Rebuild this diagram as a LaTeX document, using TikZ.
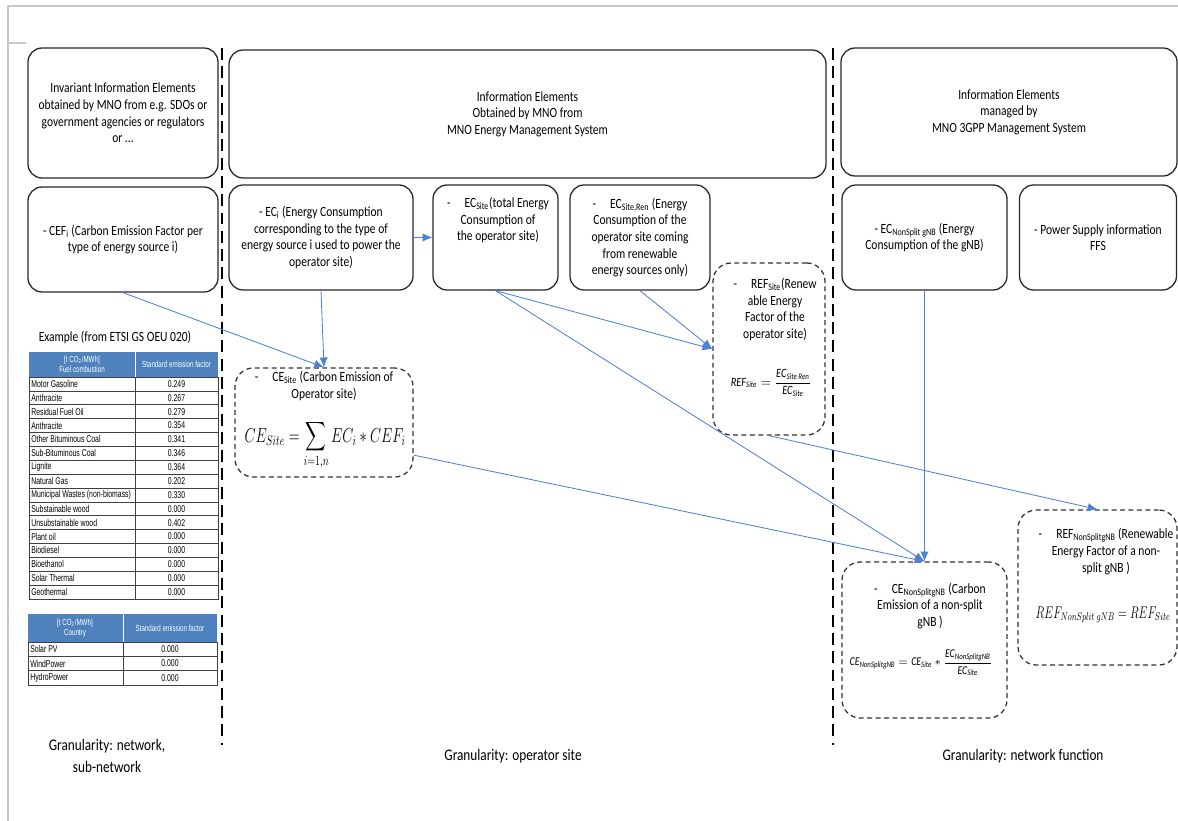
\documentclass[tikz,border=0pt]{standalone}
\usepackage{amsmath}
\usepackage{fontspec}
\setmainfont{Carlito}[FakeStretch=0.82]
\newfontfamily\tabfont{Liberation Sans}[FakeStretch=0.7]
\usetikzlibrary{arrows.meta}

\newcommand{\pxu}{0.025cm}
\newcommand{\narrowmath}[2][0.82]{\scalebox{#1}[1]{#2}}
\definecolor{arrowblue}{RGB}{79,129,209}
\definecolor{headblue}{RGB}{79,129,189}
\definecolor{framegray}{RGB}{200,200,200}

\tikzset{
  infobox/.style={draw=black!85, line width=0.9pt, rounded corners=10pt, align=center, inner sep=0pt},
  formbox/.style={draw=black!80, line width=0.9pt, dash pattern=on 3.5pt off 2.5pt, rounded corners=13pt, inner sep=0pt},
  boxtext/.style={align=center, inner sep=0pt},
  link/.style={draw=arrowblue, line width=0.6pt, -{Latex[length=7pt,width=6pt]}},
  sepline/.style={line width=2pt, dash pattern=on 8.5pt off 4.5pt},
  tabhead/.style={font=\tabfont\fontsize{6.3}{7.3}\selectfont, inner sep=0pt, text=white, align=center},
  tabtext/.style={font=\tabfont\fontsize{7}{8}\selectfont, inner sep=0pt},
  tabline/.style={draw=black!75, line width=0.5pt},
  grantext/.style={font=\fontsize{11.5}{15.5}\selectfont, align=center},
}

\begin{document}
\begin{tikzpicture}[x=0.025cm, y=-0.025cm, font=\fontsize{10}{11.8}\selectfont]
\useasboundingbox (0,0) rectangle (1178,821);
\draw[framegray, line width=0.8pt] (1178,6) -- (8,6) -- (8,821);
\draw[framegray, line width=0.8pt] (8,43) -- (26,43);

% column separators
\draw[sepline] (222,48) -- (222,745);
\draw[sepline] (833,48) -- (833,745);

% top row
\node[infobox, minimum width=190*\pxu, minimum height=130*\pxu] (inv) at (123,113) {Invariant Information Elements\\obtained by MNO from e.g. SDOs or\\government agencies or regulators\\or ...};
\node[infobox, minimum width=597*\pxu, minimum height=128*\pxu] (ems) at (527.5,114) {Information Elements\\Obtained by MNO from\\MNO Energy Management System};
\node[infobox, minimum width=336*\pxu, minimum height=128*\pxu] (mgmt) at (1009,112) {Information Elements\\managed by\\MNO 3GPP Management System};

% second row
\node[infobox, minimum width=190*\pxu, minimum height=105*\pxu] (cef) at (123,239.5) {- CEF\textsubscript{i} (Carbon Emission Factor per\\type of energy source i)};
\node[infobox, minimum width=184*\pxu, minimum height=105*\pxu] (eci) at (321,237.5) {- EC\textsubscript{i} (Energy Consumption\\corresponding to the type of\\energy source i used to power the\\operator site)};
\node[infobox, minimum width=125*\pxu, minimum height=105*\pxu] (ecsite) at (495.5,237.5) {};
\node[boxtext] (ecsitetxt) at (498,220) {-\quad EC\textsubscript{Site}(total Energy\\Consumption of\\the operator site)};
\node[infobox, minimum width=140*\pxu, minimum height=105*\pxu] (ecren) at (640,237.5) {-\quad EC\textsubscript{Site,Ren} (Energy\\Consumption of the\\operator site coming\\from renewable\\energy sources only)};
\node[infobox, minimum width=165*\pxu, minimum height=105*\pxu] (ecns) at (924.5,237.5) {- EC\textsubscript{NonSplit gNB} (Energy\\Consumption of the gNB)};
\node[infobox, minimum width=157*\pxu, minimum height=105*\pxu] (power) at (1098,237.5) {- Power Supply information\\FFS};

% derived elements
\node[formbox, minimum width=178*\pxu, minimum height=109*\pxu] (cesite) at (324,422.5) {};
\node[boxtext] (cesitetxt) at (324,386) {-\quad CE\textsubscript{Site} (Carbon Emission of\\Operator site)};
\node[anchor=base, inner sep=0pt, font=\fontsize{14.4}{17}\selectfont] (cesiteeq) at (325,442) {\narrowmath[0.71]{$\displaystyle CE_{Site}=\sum_{i=1,n}EC_i*CEF_i$}};

\node[formbox, minimum width=112*\pxu, minimum height=172*\pxu] (refsite) at (769,349) {};
\node[boxtext] (refsitetxt) at (775,309.5) {-\quad REF\textsubscript{Site}(Renew\\able Energy\\Factor of the\\operator site)};
\node[inner sep=0pt, font=\fontsize{9}{10}\selectfont] (refsiteeq) at (771,383) {$\textit{REF}_{\textit{Site}}=\dfrac{\textit{EC}_{\textit{Site Ren}}}{\textit{EC}_{\textit{Site}}}$};

\node[formbox, minimum width=165*\pxu, minimum height=156*\pxu] (cens) at (924.5,640) {};
\node[boxtext] (censtxt) at (930,606) {-\quad CE\textsubscript{NonSplitgNB} (Carbon\\Emission of a non-split\\gNB )};
\node[inner sep=0pt, font=\fontsize{8.5}{10}\selectfont] (censeq) at (921,663) {$\textit{CE}_{\textit{NonSplitgNB}}=\textit{CE}_{\textit{Site}}*\dfrac{\textit{EC}_{\textit{NonSplitgNB}}}{\textit{EC}_{\textit{Site}}}$};

\node[formbox, minimum width=159*\pxu, minimum height=155*\pxu] (refns) at (1097.5,587.5) {};
\node[boxtext] (refnstxt) at (1106,551.5) {-\quad REF\textsubscript{NonSplitgNB} (Renewable\\Energy Factor of a non-\\split gNB )};
\node[inner sep=0pt, font=\fontsize{12}{14}\selectfont] (refnseq) at (1103,615) {\narrowmath[0.68]{$REF_{NonSplit\ gNB}=REF_{Site}$}};

% example table
\node (extitle) at (115,337) {Example (from ETSI GS OEU 020)};
\fill[headblue] (29,352) rectangle (218,377);
\draw[white, line width=0.4pt] (135,352) -- (135,377);
\node[tabhead] (hd1) at (82,364.5) {[t CO\textsubscript{2}/MWh]\\Fuel combustion};
\node[tabhead] (hd2) at (176.5,364.5) {Standard emission factor};
\foreach \fuel/\fac [count=\k] in {Motor Gasoline/0.249, Anthracite/0.267, Residual Fuel Oil/0.279, Anthracite/0.354, Other Bituminous Coal/0.341, Sub-Bituminous Coal/0.346, Lignite/0.364, Natural Gas/0.202, Municipal Wastes (non-biomass)/0.330, Substainable wood/0.000, Unsubstainable wood/0.402, Plant oil/0.000, Biodiesel/0.000, Bioethanol/0.000, Solar Thermal/0.000, Geothermal/0.000} {
  \draw[tabline] (29,{377+(\k-1)*13.875}) rectangle (218,{377+\k*13.875});
  \node[tabtext, anchor=west] (fuel\k) at (31,{377+(\k-0.5)*13.875}) {\fuel};
  \node[tabtext] (fac\k) at (176.5,{377+(\k-0.5)*13.875}) {\fac};
}
\draw[tabline] (135,377) -- (135,599);

\fill[headblue] (28,614) rectangle (217,642);
\draw[white, line width=0.4pt] (123,614) -- (123,642);
\node[tabhead] (hd3) at (75,628) {[t CO\textsubscript{2}/MWh]\\Country};
\node[tabhead] (hd4) at (170,628) {Standard emission factor};
\foreach \src/\fac [count=\k] in {Solar PV/0.000, WindPower/0.000, HydroPower/0.000} {
  \draw[tabline] (28,{642+(\k-1)*14.33}) rectangle (217,{642+\k*14.33});
  \node[tabtext, anchor=west] (src\k) at (30,{642+(\k-0.5)*14.33}) {\src};
  \node[tabtext] (cfac\k) at (170,{642+(\k-0.5)*14.33}) {\fac};
}
\draw[tabline] (123,642) -- (123,685);

% granularity
\node[grantext] (granA) at (107,756) {Granularity: network,\\sub-network};
\node[grantext] (granB) at (513,756) {Granularity: operator site};
\node[grantext] (granC) at (1023,756) {Granularity: network function};

% arrows
\draw[link] (cef.south) -- (cesite.north);
\draw[link] (eci.south) -- (cesite.north);
\draw[link] (eci.east) -- (ecsite.west);
\draw[link] (ecsite.south) -- (refsite.west);
\draw[link] (ecren.south) -- (refsite.west);
\draw[link] (ecsite.south) -- (cens.north);
\draw[link] (cesite.-20) -- (cens.north);
\draw[link] (ecns.south) -- (cens.north);
\draw[link] (refsite.south) -- (refns.north);
\end{tikzpicture}
\end{document}
